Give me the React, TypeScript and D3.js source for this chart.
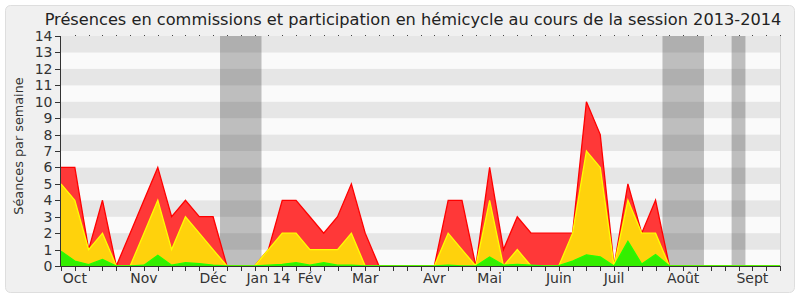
import React from "react";
import * as d3 from "d3";

const TITLE = "Présences en commissions et participation en hémicycle au cours de la session 2013-2014";
const Y_LABEL = "Séances par semaine";

// weekly values, week index 0..52
const redValues = [6, 6, 1, 4, 0, 2, 4, 6, 3, 4, 3, 3, 0, 0, 0, 1, 4, 4, 3, 2, 3, 5, 2, 0, 0, 0, 0, 0, 4, 4, 0, 6, 1, 3, 2, 2, 2, 2, 10, 8, 0, 5, 2, 4, 0, 0, 0, 0, 0, 0, 0, 0, 0];
const yellowValues = [5, 4, 1, 2, 0, 0, 2, 4, 1, 3, 2, 1, 0, 0, 0, 1, 2, 2, 1, 1, 1, 2, 0, 0, 0, 0, 0, 0, 2, 1, 0, 4, 0, 1, 0, 0, 0, 2, 7, 6, 0, 4, 2, 2, 0, 0, 0, 0, 0, 0, 0, 0, 0];
const greenValues = [0.9, 0.3, 0.08, 0.4, 0, 0, 0.05, 0.65, 0.05, 0.2, 0.15, 0.05, 0, 0, 0, 0.05, 0.1, 0.2, 0.05, 0.2, 0.05, 0.05, 0, 0, 0, 0, 0, 0, 0.05, 0, 0, 0.55, 0.05, 0.1, 0.05, 0, 0.02, 0.3, 0.68, 0.55, 0, 1.5, 0.12, 0.7, 0, 0, 0, 0, 0, 0, 0, 0, 0];

const monthLabels = ["Oct", "Nov", "Déc", "Jan 14", "Fév", "Mar", "Avr", "Mai", "Juin", "Juil", "Août", "Sept"];
const monthWeeks = [1, 6, 11, 15, 18, 22, 27, 31, 36, 40, 45, 50];

const vacationStarts = [11.5, 43.5, 48.5];
const vacationEnds = [14.5, 46.5, 49.5];

const yTicks = d3.range(0, 15);

export default function App() {
  const W = 800, H = 300;
  const left = 61, right = 780, top = 36, bottom = 266;
  const nWeeks = redValues.length - 1;
  const x = d3.scaleLinear().domain([0, nWeeks]).range([left, right]);
  const y = d3.scaleLinear().domain([0, 14]).range([bottom, top]);
  const weeks = d3.range(0, nWeeks + 1);

  const area = (vals: number[]) =>
    d3.area<number>().x((_, i) => x(i)).y0(y(0)).y1((d) => y(d))(vals) || "";
  const line = (vals: number[]) =>
    d3.line<number>().x((_, i) => x(i)).y((d) => y(d))(vals) || "";

  const series = [
    { vals: redValues, fill: "#ff3838", stroke: "#ff0000" },
    { vals: yellowValues, fill: "#ffd20c", stroke: "#ffff00" },
    { vals: greenValues, fill: "#34ee00", stroke: "#22ff00" },
  ];

  const font = "DejaVu Sans, Verdana, sans-serif";

  return (
    <svg width={W} height={H} style={{ position: "absolute", left: 0, top: 0 }} fontFamily={font}>
      <rect x={0} y={0} width={W} height={H} fill="#ffffff" />
      <rect x={5.5} y={5.5} width={789} height={287} rx={5} fill="#f0f0f0" stroke="#dedede" />
      {/* stripes */}
      {d3.range(0, 14).map((v) => (
        <rect key={v} x={left} y={y(v + 1)} width={right - left} height={y(v) - y(v + 1)}
          fill={v % 2 === 1 ? "#e6e6e6" : "#fafafa"} />
      ))}
      <line x1={right + 0.5} x2={right + 0.5} y1={top} y2={bottom} stroke="#d4d4d4" />
      {/* vacation bands */}
      {vacationStarts.map((s, i) => (
        <rect key={i} x={x(s)} y={top} width={x(vacationEnds[i]) - x(s)} height={bottom - top}
          fill="rgba(0,0,0,0.24)" />
      ))}
      {/* top dots */}
      {weeks.slice(1).map((k) => (
        <rect key={k} x={Math.round(x(k))} y={top - 1} width={1} height={1} fill="#444" />
      ))}
      {/* areas */}
      {series.map((s, i) => (
        <g key={i}>
          <path d={area(s.vals)} fill={s.fill} />
          <path d={line(s.vals)} fill="none" stroke={s.stroke} strokeWidth={1.3} />
        </g>
      ))}
      {/* axes */}
      <line x1={left - 0.5} x2={left - 0.5} y1={top} y2={bottom + 0.5} stroke="#333" />
      <line x1={left - 0.5} x2={right} y1={bottom + 0.5} y2={bottom + 0.5} stroke="#333" />
      {yTicks.map((v) => (
        <g key={v}>
          <line x1={left - 6} x2={left} y1={Math.round(y(v)) + 0.5} y2={Math.round(y(v)) + 0.5} stroke="#333" />
          <text x={52.5} y={y(v) + 5} textAnchor="end" fontSize={14} fill="#333">{v}</text>
        </g>
      ))}
      {weeks.map((k) => (
        <line key={k} x1={Math.round(x(k)) + 0.5} x2={Math.round(x(k)) + 0.5} y1={bottom} y2={bottom + 5} stroke="#333" />
      ))}
      {monthLabels.map((m, i) => (
        <text key={m} x={x(monthWeeks[i])} y={283} textAnchor="middle" fontSize={14} fill="#333">{m}</text>
      ))}
      <text x={413} y={25} textAnchor="middle" fontSize={16.2} fill="#222">{TITLE}</text>
      <text transform={`translate(22.5,146) rotate(-90)`} textAnchor="middle" fontSize={12.8} fill="#333">{Y_LABEL}</text>
    </svg>
  );
}
